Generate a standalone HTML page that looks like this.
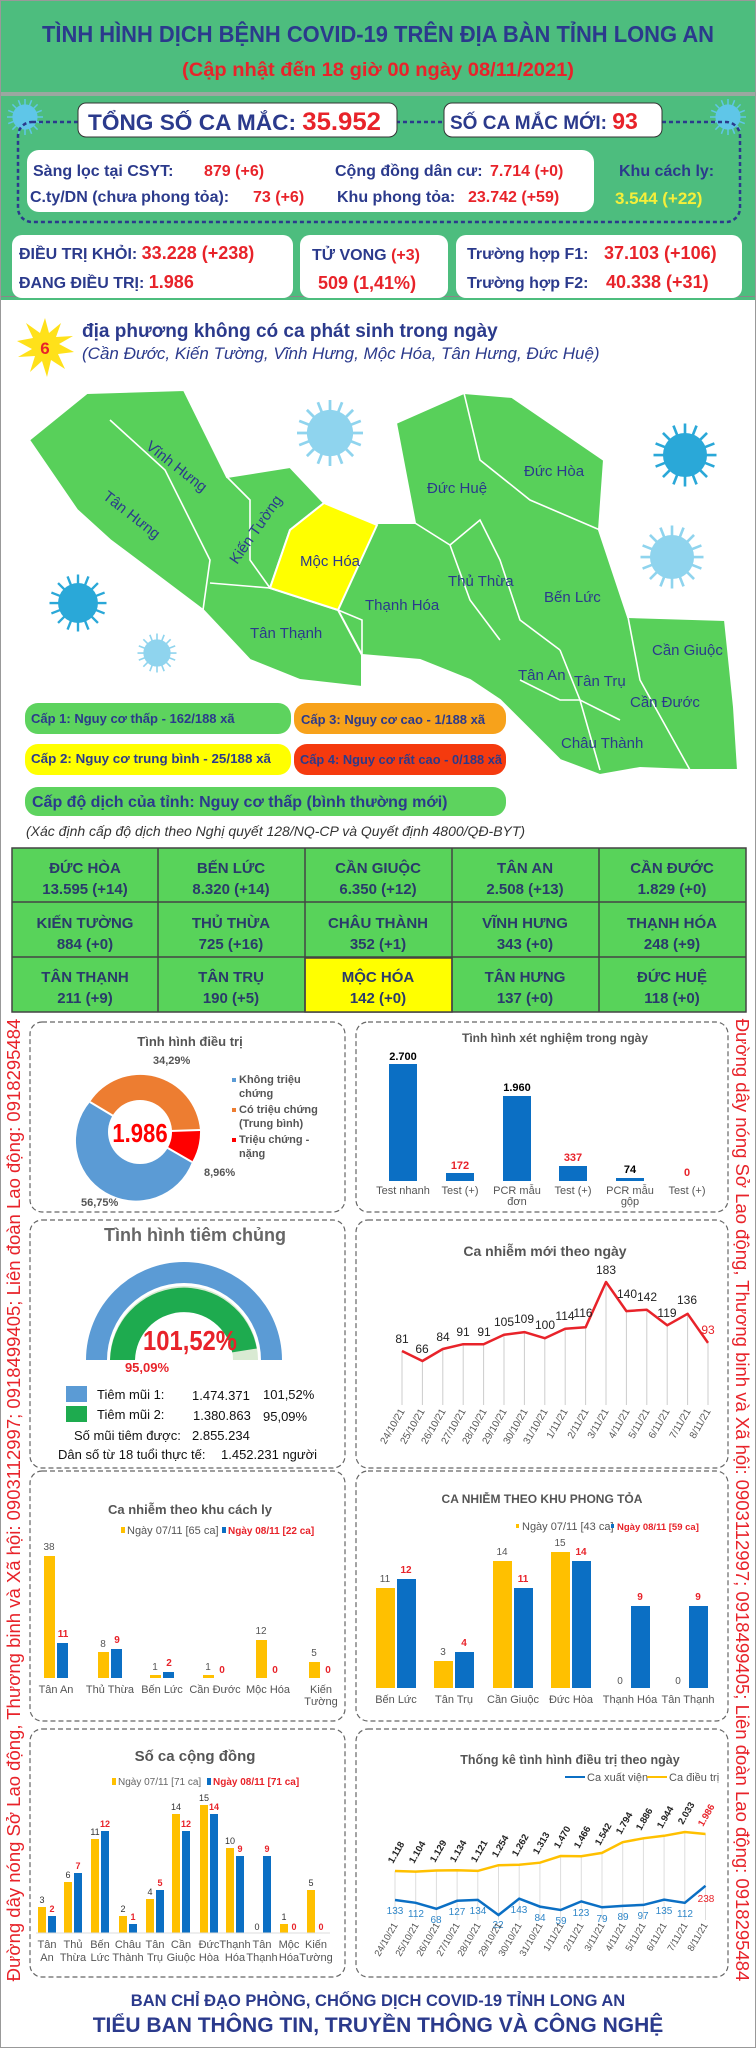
<!DOCTYPE html>
<html><head><meta charset="utf-8"><style>
html,body{margin:0;padding:0;background:#fff}
svg{display:block}
text{font-family:"Liberation Sans",sans-serif}
.n{fill:#2b3a8c;font-weight:bold}
.r{fill:#e8232a;font-weight:bold}
.t{fill:#2a3a6b;font-weight:bold;font-size:15px;text-anchor:middle}
.g{fill:#555;font-size:11px}
.ct{fill:#555;font-weight:bold;text-anchor:middle}
</style></head><body>
<svg width="756" height="2048" viewBox="0 0 756 2048" xmlns="http://www.w3.org/2000/svg">
<defs>
<g id="vir"><g stroke="currentColor" stroke-width="2.5">
<line x1="0" y1="-30" x2="0" y2="30"/><line x1="-30" y1="0" x2="30" y2="0"/>
<line x1="-21" y1="-21" x2="21" y2="21"/><line x1="-21" y1="21" x2="21" y2="-21"/>
<line x1="-11" y1="-28" x2="11" y2="28"/><line x1="-28" y1="-11" x2="28" y2="11"/>
<line x1="11" y1="-28" x2="-11" y2="28"/><line x1="28" y1="-11" x2="-28" y2="11"/></g>
<circle r="21" fill="currentColor"/></g>
</defs>
<rect x="0" y="0" width="756" height="300" fill="#4dbd7e"/>
<rect x="0" y="92" width="756" height="4" fill="#9aa8a0"/>
<rect x="0" y="296" width="756" height="1" fill="#888"/>
<text x="42" y="42" class="n" font-size="23" textLength="672" lengthAdjust="spacingAndGlyphs">TÌNH HÌNH DỊCH BỆNH COVID-19 TRÊN ĐỊA BÀN TỈNH LONG AN</text>
<text x="182" y="76" class="r" font-size="19" textLength="392" lengthAdjust="spacingAndGlyphs">(Cập nhật đến 18 giờ 00 ngày 08/11/2021)</text>
<use href="#vir" color="#5fc6e8" transform="translate(25 117) scale(0.6)"/>
<use href="#vir" color="#5fc6e8" transform="translate(728 117) scale(0.6)"/>
<rect x="18" y="122" width="722" height="100" rx="14" fill="none" stroke="#2b3a8c" stroke-width="2.5" stroke-dasharray="4 3"/>
<rect x="78" y="103" width="319" height="34" rx="8" fill="#fff" stroke="#333"/>
<text x="88" y="130" class="n" font-size="22" textLength="293" lengthAdjust="spacingAndGlyphs">TỔNG SỐ CA MẮC: <tspan class="r" font-size="25">35.952</tspan></text>
<rect x="444" y="103" width="218" height="34" rx="8" fill="#fff" stroke="#333"/>
<text x="450" y="129" class="n" font-size="19">SỐ CA MẮC MỚI: <tspan class="r" font-size="23">93</tspan></text>
<rect x="27" y="150" width="567" height="62" rx="12" fill="#fff"/>
<g font-size="16">
<text x="33" y="176" class="n">Sàng lọc tại CSYT:</text><text x="204" y="176" class="r">879 (+6)</text>
<text x="335" y="176" class="n">Cộng đồng dân cư:</text><text x="490" y="176" class="r">7.714 (+0)</text>
<text x="30" y="202" class="n">C.ty/DN (chưa phong tỏa):</text><text x="253" y="202" class="r">73 (+6)</text>
<text x="337" y="202" class="n">Khu phong tỏa:</text><text x="468" y="202" class="r">23.742 (+59)</text>
<text x="619" y="176" class="n">Khu cách ly:</text>
<text x="615" y="204" font-weight="bold" fill="#f5ef3a" font-size="17">3.544 (+22)</text>
</g>
<rect x="12" y="235" width="281" height="63" rx="10" fill="#fff"/>
<rect x="300" y="235" width="148" height="63" rx="10" fill="#fff"/>
<rect x="456" y="235" width="286" height="63" rx="10" fill="#fff"/>
<g font-size="16">
<text x="19" y="259" class="n">ĐIỀU TRỊ KHỎI: <tspan class="r" font-size="18">33.228 (+238)</tspan></text>
<text x="19" y="288" class="n">ĐANG ĐIỀU TRỊ: <tspan class="r" font-size="18">1.986</tspan></text>
<text x="312" y="260" class="n">TỬ VONG <tspan class="r">(+3)</tspan></text>
<text x="318" y="289" class="r" font-size="18">509 (1,41%)</text>
<text x="467" y="259" class="n">Trường hợp F1:</text><text x="604" y="259" class="r" font-size="18">37.103 (+106)</text>
<text x="467" y="288" class="n">Trường hợp F2:</text><text x="606" y="288" class="r" font-size="18">40.338 (+31)</text>
</g>
<polygon points="45,318 49,333 61,323 56,337 73,336 59,344 74,352 58,354 65,369 51,360 47,377 42,361 30,372 35,356 18,357 32,349 17,341 33,338 26,323 40,333" fill="#ffe11a"/>
<text x="45" y="354" text-anchor="middle" class="r" font-size="17">6</text>
<text x="82" y="337" class="n" font-size="19">địa phương không có ca phát sinh trong ngày</text>
<text x="82" y="359" fill="#2b3a8c" font-style="italic" font-size="17">(Cần Đước, Kiến Tường, Vĩnh Hưng, Mộc Hóa, Tân Hưng, Đức Huệ)</text>
<g fill="#58d05a" stroke="#fff" stroke-width="2">
<polygon points="29,440 87,393 184,390 227,477 290,467 324,503 290,530 270,588 338,610 362,620 362,687 300,680 250,660 203,610 150,570 110,540 77,510"/>
<polygon points="377,523 415,523 396,423 464,393 512,397 604,460 599,530 628,617 725,620 734,707 738,770 690,770 640,768 600,775 560,760 530,730 500,700 470,680 420,660 362,655 338,610"/>
</g>
<polygon points="324,503 377,525 338,610 270,588 290,530" fill="#ffff00" stroke="#fff" stroke-width="2"/>
<g fill="none" stroke="#fff" stroke-width="1.6">
<polyline points="110,420 165,470 210,560 203,610"/><polyline points="227,477 250,500 250,560 270,588"/>
<polyline points="210,583 270,588"/><polyline points="338,610 362,620 362,687"/>
<polyline points="415,523 450,545 480,520 500,560 520,620 560,650"/><polyline points="464,393 480,460 530,500 600,530"/>
<polyline points="450,545 470,600 500,640"/><polyline points="560,650 580,700 600,770"/><polyline points="628,617 640,680 690,770"/>
<polyline points="520,680 560,700 580,700 620,720"/>
</g>
<g fill="#2b3a8c" font-size="15">
<text transform="translate(145,448) rotate(38)">Vĩnh Hưng</text>
<text transform="translate(102,498) rotate(38)">Tân Hưng</text>
<text transform="translate(237,565) rotate(-55)">Kiến Tường</text>
<text x="300" y="566">Mộc Hóa</text><text x="250" y="638">Tân Thạnh</text>
<text x="365" y="610">Thạnh Hóa</text><text x="427" y="493">Đức Huệ</text>
<text x="524" y="476">Đức Hòa</text><text x="448" y="586">Thủ Thừa</text>
<text x="544" y="602">Bến Lức</text><text x="518" y="680">Tân An</text>
<text x="574" y="686">Tân Trụ</text><text x="652" y="655">Cần Giuộc</text>
<text x="630" y="707">Cần Đước</text><text x="561" y="748">Châu Thành</text>
</g>
<use href="#vir" color="#8fd4ee" transform="translate(330 433) scale(1.1)"/>
<use href="#vir" color="#2aa8d8" transform="translate(685 455) scale(1.05)"/>
<use href="#vir" color="#8fd4ee" transform="translate(672 557) scale(1.05)"/>
<use href="#vir" color="#2aa8d8" transform="translate(78 603) scale(0.95)"/>
<use href="#vir" color="#8fd4ee" transform="translate(157 653) scale(0.65)"/>
<g font-size="13" font-weight="bold">
<rect x="25" y="703" width="266" height="31" rx="13" fill="#5dd35e"/><text x="31" y="723" fill="#2b3a8c">Cấp 1: Nguy cơ thấp - 162/188 xã</text>
<rect x="294" y="703" width="212" height="31" rx="13" fill="#f7a21b"/><text x="301" y="724" fill="#2b3a8c">Cấp 3: Nguy cơ cao - 1/188 xã</text>
<rect x="25" y="744" width="266" height="31" rx="13" fill="#ffff00"/><text x="31" y="763" fill="#2b3a8c" textLength="240" lengthAdjust="spacingAndGlyphs">Cấp 2: Nguy cơ trung bình - 25/188 xã</text>
<rect x="294" y="744" width="212" height="31" rx="13" fill="#f53a0e"/><text x="300" y="764" fill="#2b3a8c" textLength="202" lengthAdjust="spacingAndGlyphs">Cấp 4: Nguy cơ rất cao - 0/188 xã</text>
<rect x="25" y="787" width="481" height="29" rx="13" fill="#5dd35e"/><text x="32" y="807" fill="#2b3a8c" font-size="16">Cấp độ dịch của tỉnh: Nguy cơ thấp (bình thường mới)</text>
</g>
<text x="26" y="836" fill="#333" font-style="italic" font-size="14">(Xác định cấp độ dịch theo Nghị quyết 128/NQ-CP và Quyết định 4800/QĐ-BYT)</text>
<g stroke="#444" stroke-width="1.5">
<rect x="12" y="848" width="734" height="164" fill="#58d35a"/>
<rect x="305" y="958" width="147" height="54" fill="#ffff00"/>
<line x1="12" y1="902" x2="746" y2="902"/><line x1="12" y1="957" x2="746" y2="957"/>
<line x1="158" y1="848" x2="158" y2="1012"/><line x1="305" y1="848" x2="305" y2="1012"/><line x1="452" y1="848" x2="452" y2="1012"/><line x1="599" y1="848" x2="599" y2="1012"/>
</g>
<g>
<text x="85" y="873" class="t">ĐỨC HÒA</text><text x="85" y="894" class="t">13.595 (+14)</text>
<text x="231" y="873" class="t">BẾN LỨC</text><text x="231" y="894" class="t">8.320 (+14)</text>
<text x="378" y="873" class="t">CẦN GIUỘC</text><text x="378" y="894" class="t">6.350 (+12)</text>
<text x="525" y="873" class="t">TÂN AN</text><text x="525" y="894" class="t">2.508 (+13)</text>
<text x="672" y="873" class="t">CẦN ĐƯỚC</text><text x="672" y="894" class="t">1.829 (+0)</text>
<text x="85" y="928" class="t">KIẾN TƯỜNG</text><text x="85" y="949" class="t">884 (+0)</text>
<text x="231" y="928" class="t">THỦ THỪA</text><text x="231" y="949" class="t">725 (+16)</text>
<text x="378" y="928" class="t">CHÂU THÀNH</text><text x="378" y="949" class="t">352 (+1)</text>
<text x="525" y="928" class="t">VĨNH HƯNG</text><text x="525" y="949" class="t">343 (+0)</text>
<text x="672" y="928" class="t">THẠNH HÓA</text><text x="672" y="949" class="t">248 (+9)</text>
<text x="85" y="982" class="t">TÂN THẠNH</text><text x="85" y="1003" class="t">211 (+9)</text>
<text x="231" y="982" class="t">TÂN TRỤ</text><text x="231" y="1003" class="t">190 (+5)</text>
<text x="378" y="982" class="t">MỘC HÓA</text><text x="378" y="1003" class="t">142 (+0)</text>
<text x="525" y="982" class="t">TÂN HƯNG</text><text x="525" y="1003" class="t">137 (+0)</text>
<text x="672" y="982" class="t">ĐỨC HUỆ</text><text x="672" y="1003" class="t">118 (+0)</text>
</g>
<text transform="translate(20,1500) rotate(-90)" text-anchor="middle" fill="#e8232a" font-size="18.5">Đường dây nóng Sở Lao động, Thương binh và Xã hội: 0903112997; 0918499405; Liên đoàn Lao động: 0918295484</text>
<text transform="translate(736,1500) rotate(90)" text-anchor="middle" fill="#e8232a" font-size="18.5">Đường dây nóng Sở Lao động, Thương binh và Xã hội: 0903112997; 0918499405; Liên đoàn Lao động: 0918295484</text>
<g fill="none" stroke="#666" stroke-width="1.2" stroke-dasharray="5 3">
<rect x="30" y="1022" width="315" height="190" rx="12"/><rect x="356" y="1022" width="372" height="190" rx="12"/>
<rect x="30" y="1220" width="315" height="248" rx="12"/><rect x="356" y="1220" width="372" height="248" rx="12"/>
<rect x="30" y="1471" width="315" height="250" rx="12"/><rect x="356" y="1471" width="372" height="250" rx="12"/>
<rect x="30" y="1729" width="315" height="248" rx="12"/><rect x="356" y="1729" width="372" height="248" rx="12"/>
</g>
<text x="190" y="1046" class="ct" font-size="13">Tình hình điều trị</text>
<g transform="translate(140 1132)">
<path d="M0,0 L52,30 A60,60 0 0 0 60,-2 Z" fill="#ff0000"/>
<path d="M0,0 L60,-2 A60,60 0 0 0 -50,-30 Z" fill="#ed7d31"/>
<path d="M0,0 L-50,-30 A60,60 0 1 0 52,30 Z" fill="#5b9bd5"/>
<g stroke="#fff" stroke-width="2"><line x1="0" y1="0" x2="60" y2="-2"/><line x1="0" y1="0" x2="-50" y2="-30"/><line x1="0" y1="0" x2="52" y2="30"/></g>
<circle r="32" fill="#fff"/>
<text y="10" text-anchor="middle" fill="#ff0000" font-weight="bold" font-size="26" transform="scale(0.85 1)">1.986</text>
</g>
<g class="g" font-weight="bold">
<text x="153" y="1064">34,29%</text><text x="204" y="1176">8,96%</text><text x="81" y="1206">56,75%</text>
<rect x="232" y="1078" width="4" height="4" fill="#5b9bd5"/><text x="239" y="1083">Không triệu</text><text x="239" y="1097">chứng</text>
<rect x="232" y="1108" width="4" height="4" fill="#ed7d31"/><text x="239" y="1113">Có triệu chứng</text><text x="239" y="1127">(Trung bình)</text>
<rect x="232" y="1138" width="4" height="4" fill="#ff0000"/><text x="239" y="1143">Triệu chứng -</text><text x="239" y="1157">nặng</text>
</g>
<text x="555" y="1042" class="ct" font-size="12">Tình hình xét nghiệm trong ngày</text>
<g fill="#0b6fc4">
<rect x="389" y="1064" width="28" height="117"/><rect x="446" y="1173" width="28" height="8"/>
<rect x="503" y="1096" width="28" height="85"/><rect x="559" y="1166" width="28" height="15"/>
<rect x="616" y="1178" width="28" height="3"/>
</g>
<g font-size="11" font-weight="bold" text-anchor="middle">
<text x="403" y="1060">2.700</text><text x="460" y="1169" fill="#e8232a">172</text><text x="517" y="1091">1.960</text>
<text x="573" y="1161" fill="#e8232a">337</text><text x="630" y="1173">74</text><text x="687" y="1176" fill="#e8232a">0</text>
</g>
<g class="g" text-anchor="middle" font-size="10.5">
<text x="403" y="1194">Test nhanh</text><text x="460" y="1194">Test (+)</text><text x="517" y="1194">PCR mẫu</text><text x="517" y="1205">đơn</text>
<text x="573" y="1194">Test (+)</text><text x="630" y="1194">PCR mẫu</text><text x="630" y="1205">gộp</text><text x="687" y="1194">Test (+)</text>
</g>
<text x="195" y="1241" text-anchor="middle" fill="#666" font-weight="bold" font-size="18" font-family="Liberation Serif,serif">Tình hình tiêm chủng</text>
<path d="M86,1360 A98,98 0 0 1 282,1360 L261,1360 A77,77 0 0 0 107,1360 Z" fill="#5b9bd5"/>
<path d="M110,1360 A74,74 0 0 1 258,1360 L233,1360 A49,49 0 0 0 135,1360 Z" fill="#d9ead3"/>
<path d="M110,1360 A74,74 0 0 1 256.8,1348.5 L232.2,1352.4 A49,49 0 0 0 135,1360 Z" fill="#1eab4f"/>
<text x="190" y="1350" text-anchor="middle" fill="#e8232a" font-weight="bold" font-size="28" transform="translate(190 0) scale(0.85 1) translate(-190 0)">101,52%</text>
<text x="147" y="1372" text-anchor="middle" fill="#e8232a" font-weight="bold" font-size="13">95,09%</text>
<rect x="66" y="1386" width="21" height="16" fill="#5b9bd5"/><rect x="66" y="1406" width="21" height="16" fill="#1eab4f"/>
<g font-size="13" fill="#111">
<text x="97" y="1399">Tiêm mũi 1:</text><text x="192" y="1400">1.474.371</text><text x="263" y="1399">101,52%</text>
<text x="97" y="1419">Tiêm mũi 2:</text><text x="193" y="1420">1.380.863</text><text x="263" y="1421">95,09%</text>
<text x="74" y="1440">Số mũi tiêm được:</text><text x="192" y="1440">2.855.234</text>
<text x="58" y="1459">Dân số từ 18 tuổi thực tế:</text><text x="221" y="1459">1.452.231 người</text>
</g>
<text x="545" y="1256" class="ct" font-size="14" fill="#444">Ca nhiễm mới theo ngày</text>
<g stroke="#ccc" stroke-width="1">
<line x1="402" y1="1351" x2="402" y2="1405"/><line x1="422.4" y1="1361" x2="422.4" y2="1405"/><line x1="442.8" y1="1349" x2="442.8" y2="1405"/><line x1="463.2" y1="1344" x2="463.2" y2="1405"/><line x1="483.6" y1="1344" x2="483.6" y2="1405"/><line x1="504" y1="1335" x2="504" y2="1405"/><line x1="524.4" y1="1332" x2="524.4" y2="1405"/><line x1="544.8" y1="1338" x2="544.8" y2="1405"/><line x1="565.2" y1="1329" x2="565.2" y2="1405"/><line x1="585.6" y1="1327" x2="585.6" y2="1405"/><line x1="606" y1="1282" x2="606" y2="1405"/><line x1="626.4" y1="1311" x2="626.4" y2="1405"/><line x1="646.8" y1="1310" x2="646.8" y2="1405"/><line x1="667.2" y1="1325" x2="667.2" y2="1405"/><line x1="687.6" y1="1314" x2="687.6" y2="1405"/><line x1="708" y1="1343" x2="708" y2="1405"/>
</g>
<polyline fill="none" stroke="#e8232a" stroke-width="2.5" stroke-linejoin="round" points="402,1351 422.4,1361 442.8,1349 463.2,1344.2 483.6,1344.2 504,1334.8 524.4,1332.1 544.8,1338.2 565.2,1328.7 585.6,1327.3 606,1282 626.4,1311.1 646.8,1309.8 667.2,1325.3 687.6,1313.8 708,1342.9"/>
<g font-size="12" fill="#222" text-anchor="middle">
<text x="402" y="1343">81</text><text x="422" y="1353">66</text><text x="443" y="1341">84</text><text x="463" y="1336">91</text><text x="484" y="1336">91</text><text x="504" y="1326">105</text><text x="524" y="1323">109</text><text x="545" y="1329">100</text><text x="565" y="1320">114</text><text x="583" y="1317">116</text><text x="606" y="1274">183</text><text x="627" y="1298">140</text><text x="647" y="1301">142</text><text x="667" y="1317">119</text><text x="687" y="1304">136</text><text x="708" y="1334" fill="#e8232a">93</text>
</g>
<g font-size="10" fill="#555" text-anchor="end">
<text transform="translate(405,1411) rotate(-60)">24/10/21</text><text transform="translate(425,1411) rotate(-60)">25/10/21</text><text transform="translate(446,1411) rotate(-60)">26/10/21</text><text transform="translate(466,1411) rotate(-60)">27/10/21</text><text transform="translate(487,1411) rotate(-60)">28/10/21</text><text transform="translate(507,1411) rotate(-60)">29/10/21</text><text transform="translate(528,1411) rotate(-60)">30/10/21</text><text transform="translate(548,1411) rotate(-60)">31/10/21</text><text transform="translate(568,1411) rotate(-60)">1/11/21</text><text transform="translate(589,1411) rotate(-60)">2/11/21</text><text transform="translate(609,1411) rotate(-60)">3/11/21</text><text transform="translate(630,1411) rotate(-60)">4/11/21</text><text transform="translate(650,1411) rotate(-60)">5/11/21</text><text transform="translate(670,1411) rotate(-60)">6/11/21</text><text transform="translate(691,1411) rotate(-60)">7/11/21</text><text transform="translate(711,1411) rotate(-60)">8/11/21</text>
</g>
<text x="190" y="1514" class="ct" font-size="13">Ca nhiễm theo khu cách ly</text>
<rect x="121" y="1527" width="4" height="6" fill="#ffc000"/><text x="127" y="1534" class="g" font-size="10">Ngày 07/11 [65 ca]</text>
<rect x="222" y="1527" width="4" height="6" fill="#0b6fc4"/><text x="228" y="1534" font-size="10" fill="#e8232a" font-weight="bold">Ngày 08/11 [22 ca]</text>
<g fill="#ffc000"><rect x="44" y="1556" width="11" height="122"/><rect x="98" y="1652" width="11" height="26"/><rect x="150" y="1675" width="11" height="3"/><rect x="203" y="1675" width="11" height="3"/><rect x="256" y="1640" width="11" height="38"/><rect x="309" y="1662" width="11" height="16"/></g>
<g fill="#0b6fc4"><rect x="57" y="1643" width="11" height="35"/><rect x="111" y="1649" width="11" height="29"/><rect x="163" y="1672" width="11" height="6"/></g>
<g font-size="10" text-anchor="middle" fill="#555"><text x="49" y="1550">38</text><text x="103" y="1647">8</text><text x="155" y="1670">1</text><text x="208" y="1670">1</text><text x="261" y="1634">12</text><text x="314" y="1656">5</text></g>
<g font-size="10" text-anchor="middle" fill="#e8232a" font-weight="bold"><text x="63" y="1637">11</text><text x="117" y="1643">9</text><text x="169" y="1666">2</text><text x="222" y="1673">0</text><text x="275" y="1673">0</text><text x="328" y="1673">0</text></g>
<g class="g" text-anchor="middle" font-size="10.5"><text x="56" y="1693">Tân An</text><text x="110" y="1693">Thủ Thừa</text><text x="162" y="1693">Bến Lức</text><text x="215" y="1693">Cần Đước</text><text x="268" y="1693">Mộc Hóa</text><text x="321" y="1693">Kiến</text><text x="321" y="1705">Tường</text></g>
<text x="542" y="1503" class="ct" font-size="12">CA NHIỄM THEO KHU PHONG TỎA</text>
<rect x="516" y="1524" width="3" height="4" fill="#ffc000"/><text x="522" y="1530" class="g" font-size="9.5">Ngày 07/11 [43 ca]</text>
<rect x="611" y="1524" width="3" height="4" fill="#0b6fc4"/><text x="617" y="1530" font-size="9.5" fill="#e8232a" font-weight="bold">Ngày 08/11 [59 ca]</text>
<g fill="#ffc000"><rect x="376" y="1588" width="19" height="100"/><rect x="434" y="1661" width="19" height="27"/><rect x="493" y="1561" width="19" height="127"/><rect x="551" y="1552" width="19" height="136"/></g>
<g fill="#0b6fc4"><rect x="397" y="1579" width="19" height="109"/><rect x="455" y="1652" width="19" height="36"/><rect x="514" y="1588" width="19" height="100"/><rect x="572" y="1561" width="19" height="127"/><rect x="631" y="1606" width="19" height="82"/><rect x="689" y="1606" width="19" height="82"/></g>
<g font-size="10" text-anchor="middle" fill="#555"><text x="385" y="1582">11</text><text x="443" y="1655">3</text><text x="502" y="1555">14</text><text x="560" y="1546">15</text><text x="620" y="1684">0</text><text x="678" y="1684">0</text></g>
<g font-size="10" text-anchor="middle" fill="#e8232a" font-weight="bold"><text x="406" y="1573">12</text><text x="464" y="1646">4</text><text x="523" y="1582">11</text><text x="581" y="1555">14</text><text x="640" y="1600">9</text><text x="698" y="1600">9</text></g>
<g class="g" text-anchor="middle" font-size="10.5"><text x="396" y="1703">Bến Lức</text><text x="454" y="1703">Tân Trụ</text><text x="513" y="1703">Cần Giuộc</text><text x="571" y="1703">Đức Hòa</text><text x="630" y="1703">Thạnh Hóa</text><text x="688" y="1703">Tân Thạnh</text></g>
<text x="195" y="1761" class="ct" font-size="15" fill="#444">Số ca cộng đồng</text>
<rect x="112" y="1778" width="4" height="7" fill="#ffc000"/><text x="118" y="1785" fill="#666" font-size="10" font-family="Liberation Serif,serif">Ngày 07/11 [71 ca]</text>
<rect x="207" y="1778" width="4" height="7" fill="#0b6fc4"/><text x="213" y="1785" fill="#e8232a" font-weight="bold" font-size="10" font-family="Liberation Serif,serif">Ngày 08/11 [71 ca]</text>
<g fill="#ffc000"><rect x="38" y="1907" width="8" height="26"/><rect x="64" y="1882" width="8" height="51"/><rect x="91" y="1839" width="8" height="94"/><rect x="119" y="1916" width="8" height="17"/><rect x="146" y="1899" width="8" height="34"/><rect x="172" y="1814" width="8" height="119"/><rect x="200" y="1805" width="8" height="128"/><rect x="226" y="1848" width="8" height="85"/><rect x="280" y="1924" width="8" height="9"/><rect x="307" y="1890" width="8" height="43"/></g>
<g fill="#0b6fc4"><rect x="48" y="1916" width="8" height="17"/><rect x="74" y="1873" width="8" height="60"/><rect x="101" y="1831" width="8" height="102"/><rect x="129" y="1924" width="8" height="9"/><rect x="156" y="1890" width="8" height="43"/><rect x="182" y="1831" width="8" height="102"/><rect x="210" y="1814" width="8" height="119"/><rect x="236" y="1856" width="8" height="77"/><rect x="263" y="1856" width="8" height="77"/></g>
<line x1="36" y1="1933" x2="330" y2="1933" stroke="#ddd"/>
<g font-size="9" text-anchor="middle" fill="#333"><text x="42" y="1903">3</text><text x="68" y="1878">6</text><text x="95" y="1835">11</text><text x="123" y="1912">2</text><text x="150" y="1895">4</text><text x="176" y="1810">14</text><text x="204" y="1801">15</text><text x="230" y="1844">10</text><text x="257" y="1930">0</text><text x="284" y="1920">1</text><text x="311" y="1886">5</text></g>
<g font-size="9" text-anchor="middle" fill="#e8232a" font-weight="bold"><text x="52" y="1912">2</text><text x="78" y="1869">7</text><text x="105" y="1827">12</text><text x="133" y="1920">1</text><text x="160" y="1886">5</text><text x="186" y="1827">12</text><text x="214" y="1810">14</text><text x="240" y="1852">9</text><text x="267" y="1852">9</text><text x="294" y="1930">0</text><text x="321" y="1930">0</text></g>
<g class="g" text-anchor="middle" font-size="10"><text x="47" y="1948">Tân</text><text x="47" y="1961">An</text><text x="73" y="1948">Thủ</text><text x="73" y="1961">Thừa</text><text x="100" y="1948">Bến</text><text x="100" y="1961">Lức</text><text x="128" y="1948">Châu</text><text x="128" y="1961">Thành</text><text x="155" y="1948">Tân</text><text x="155" y="1961">Trụ</text><text x="181" y="1948">Cần</text><text x="181" y="1961">Giuộc</text><text x="209" y="1948">Đức</text><text x="209" y="1961">Hòa</text><text x="235" y="1948">Thạnh</text><text x="235" y="1961">Hóa</text><text x="262" y="1948">Tân</text><text x="262" y="1961">Thạnh</text><text x="289" y="1948">Mộc</text><text x="289" y="1961">Hóa</text><text x="316" y="1948">Kiến</text><text x="316" y="1961">Tường</text></g>
<text x="570" y="1764" class="ct" font-size="12.5">Thống kê tình hình điều trị theo ngày</text>
<line x1="565" y1="1777" x2="585" y2="1777" stroke="#0b6fc4" stroke-width="2"/><text x="587" y="1781" class="g" font-size="10">Ca xuất viện</text>
<line x1="647" y1="1777" x2="667" y2="1777" stroke="#ffc000" stroke-width="2"/><text x="669" y="1781" class="g" font-size="10">Ca điều trị</text>
<g stroke="#ddd"><line x1="395" y1="1871" x2="395" y2="1920"/><line x1="415.7" y1="1871" x2="415.7" y2="1920"/><line x1="436.4" y1="1870" x2="436.4" y2="1920"/><line x1="457.1" y1="1870" x2="457.1" y2="1920"/><line x1="477.8" y1="1870" x2="477.8" y2="1920"/><line x1="498.5" y1="1865" x2="498.5" y2="1920"/><line x1="519.2" y1="1865" x2="519.2" y2="1920"/><line x1="539.9" y1="1863" x2="539.9" y2="1920"/><line x1="560.6" y1="1856" x2="560.6" y2="1920"/><line x1="581.3" y1="1856" x2="581.3" y2="1920"/><line x1="602" y1="1853" x2="602" y2="1920"/><line x1="622.7" y1="1842" x2="622.7" y2="1920"/><line x1="643.4" y1="1838" x2="643.4" y2="1920"/><line x1="664.1" y1="1836" x2="664.1" y2="1920"/><line x1="684.8" y1="1832" x2="684.8" y2="1920"/><line x1="705.5" y1="1834" x2="705.5" y2="1920"/></g>
<polyline fill="none" stroke="#ffc000" stroke-width="2.5" points="395,1871 415.7,1871.6 436.4,1870.5 457.1,1870.3 477.8,1870.9 498.5,1865.2 519.2,1864.8 539.9,1862.7 560.6,1856 581.3,1856.2 602,1852.9 622.7,1842.2 643.4,1838.3 664.1,1835.8 684.8,1832 705.5,1834"/>
<polyline fill="none" stroke="#0b6fc4" stroke-width="2.5" points="395,1900 415.7,1902.8 436.4,1908.8 457.1,1900.8 477.8,1899.9 498.5,1915 519.2,1898.7 539.9,1906.6 560.6,1910 581.3,1901.4 602,1907.3 622.7,1905.9 643.4,1904.9 664.1,1899.7 684.8,1902.8 705.5,1885.8"/>
<g font-size="9.5" fill="#222" font-weight="bold">
<text transform="translate(393,1864) rotate(-60)">1.118</text><text transform="translate(414,1864) rotate(-60)">1.104</text><text transform="translate(435,1863) rotate(-60)">1.129</text><text transform="translate(455,1863) rotate(-60)">1.134</text><text transform="translate(476,1863) rotate(-60)">1.121</text><text transform="translate(497,1858) rotate(-60)">1.254</text><text transform="translate(517,1857) rotate(-60)">1.262</text><text transform="translate(538,1855) rotate(-60)">1.313</text><text transform="translate(559,1849) rotate(-60)">1.470</text><text transform="translate(579,1849) rotate(-60)">1.466</text><text transform="translate(600,1846) rotate(-60)">1.542</text><text transform="translate(621,1835) rotate(-60)">1.794</text><text transform="translate(641,1831) rotate(-60)">1.886</text><text transform="translate(662,1829) rotate(-60)">1.944</text><text transform="translate(683,1825) rotate(-60)">2.033</text><text transform="translate(703,1827) rotate(-60)" fill="#e8232a">1.986</text>
</g>
<g font-size="10" fill="#2e86c8" text-anchor="middle">
<text x="395" y="1914">133</text><text x="416" y="1917">112</text><text x="436" y="1923">68</text><text x="457" y="1915">127</text><text x="478" y="1914">134</text><text x="498" y="1928">22</text><text x="519" y="1913">143</text><text x="540" y="1921">84</text><text x="561" y="1924">59</text><text x="581" y="1916">123</text><text x="602" y="1922">79</text><text x="623" y="1920">89</text><text x="643" y="1919">97</text><text x="664" y="1914">135</text><text x="685" y="1917">112</text><text x="706" y="1902" fill="#e8232a">238</text>
</g>
<g font-size="9.5" fill="#555" text-anchor="end">
<text transform="translate(398,1925) rotate(-60)">24/10/21</text><text transform="translate(419,1925) rotate(-60)">25/10/21</text><text transform="translate(440,1925) rotate(-60)">26/10/21</text><text transform="translate(460,1925) rotate(-60)">27/10/21</text><text transform="translate(481,1925) rotate(-60)">28/10/21</text><text transform="translate(502,1925) rotate(-60)">29/10/21</text><text transform="translate(522,1925) rotate(-60)">30/10/21</text><text transform="translate(543,1925) rotate(-60)">31/10/21</text><text transform="translate(564,1925) rotate(-60)">1/11/21</text><text transform="translate(584,1925) rotate(-60)">2/11/21</text><text transform="translate(605,1925) rotate(-60)">3/11/21</text><text transform="translate(626,1925) rotate(-60)">4/11/21</text><text transform="translate(646,1925) rotate(-60)">5/11/21</text><text transform="translate(667,1925) rotate(-60)">6/11/21</text><text transform="translate(688,1925) rotate(-60)">7/11/21</text><text transform="translate(708,1925) rotate(-60)">8/11/21</text>
</g>
<text x="378" y="2006" text-anchor="middle" class="n" font-size="16.5">BAN CHỈ ĐẠO PHÒNG, CHỐNG DỊCH COVID-19 TỈNH LONG AN</text>
<text x="378" y="2032" text-anchor="middle" class="n" font-size="21">TIỂU BAN THÔNG TIN, TRUYỀN THÔNG VÀ CÔNG NGHỆ</text>
<rect x="0.5" y="0.5" width="755" height="2047" fill="none" stroke="#999"/>
</svg>
</body></html>
